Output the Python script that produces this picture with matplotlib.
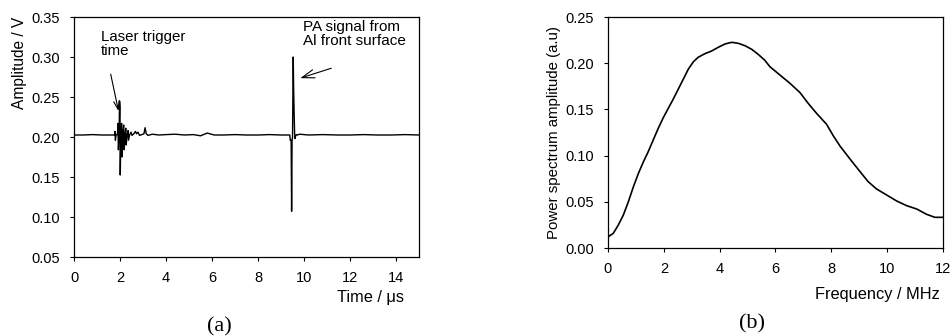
import numpy as np
import matplotlib
matplotlib.use("Agg")
import matplotlib.pyplot as plt

plt.rcParams['font.family'] = ['Liberation Sans', 'DejaVu Sans']

# (a) time signal
time_us = [0.0, 0.4, 0.8, 1.2, 1.5, 1.76, 1.78, 1.80, 1.83, 1.89, 1.91, 1.93, 1.96, 1.98,
           2.00, 2.01, 2.04, 2.07, 2.09, 2.12, 2.16, 2.18, 2.22, 2.25, 2.27, 2.31, 2.35,
           2.37, 2.42, 2.48, 2.52, 2.60, 2.67, 2.72, 2.78, 2.85, 2.95, 3.04, 3.09, 3.14,
           3.22, 3.4, 3.7, 4.0, 4.4, 4.8, 5.2, 5.5, 5.8, 5.9, 6.1, 6.5, 7.0, 7.5, 8.0,
           8.5, 9.0, 9.38, 9.40, 9.44, 9.46, 9.48, 9.50, 9.53, 9.55, 9.57, 9.59, 9.61,
           9.63, 9.67, 9.72, 9.8, 10.2, 10.8, 11.5, 12.0, 12.6, 13.2, 13.8, 14.4, 15.0]
amp_v = [0.2025, 0.2025, 0.203, 0.2025, 0.2025, 0.2025, 0.207, 0.196, 0.203, 0.203, 0.217,
         0.184, 0.203, 0.245, 0.238, 0.1525, 0.205, 0.217, 0.175, 0.205, 0.215, 0.184,
         0.203, 0.211, 0.190, 0.203, 0.208, 0.196, 0.203, 0.206, 0.202, 0.204, 0.207,
         0.204, 0.206, 0.202, 0.203, 0.204, 0.2116, 0.204, 0.202, 0.2035, 0.2025, 0.203,
         0.2035, 0.2025, 0.203, 0.2015, 0.205, 0.204, 0.2025, 0.2025, 0.203, 0.2025,
         0.2025, 0.203, 0.2025, 0.2025, 0.196, 0.196, 0.107, 0.196, 0.200, 0.300, 0.257,
         0.230, 0.205, 0.198, 0.201, 0.203, 0.2025, 0.2035, 0.2025, 0.203, 0.2025,
         0.2025, 0.203, 0.2025, 0.2025, 0.203, 0.2025]

# (b) power spectrum
freq_mhz = [0.0, 0.01, 0.19, 0.37, 0.55, 0.73, 0.91, 1.09, 1.27, 1.44, 1.62, 1.80, 1.98,
            2.16, 2.34, 2.52, 2.70, 2.88, 3.06, 3.23, 3.47, 3.71, 3.95, 4.19, 4.43, 4.67,
            4.91, 5.15, 5.38, 5.62, 5.80, 6.16, 6.52, 6.88, 7.17, 7.47, 7.83, 8.07, 8.31,
            8.67, 9.03, 9.32, 9.62, 9.98, 10.34, 10.70, 11.06, 11.41, 11.71, 12.0]
power = [0.0118, 0.0122, 0.0159, 0.0249, 0.0357, 0.0501, 0.0663, 0.0808, 0.0934, 0.1042,
         0.1169, 0.1295, 0.1410, 0.1512, 0.1613, 0.1721, 0.1829, 0.1937, 0.2016, 0.2064,
         0.2103, 0.2132, 0.2172, 0.2208, 0.2226, 0.2215, 0.2189, 0.2150, 0.2096, 0.2031,
         0.1962, 0.1872, 0.1782, 0.1681, 0.1566, 0.1458, 0.1339, 0.1215, 0.1104, 0.0963,
         0.0826, 0.0718, 0.0639, 0.0574, 0.0509, 0.0458, 0.0422, 0.0365, 0.0332, 0.0332]

fig = plt.figure(figsize=(9.5, 3.36), dpi=100)
axa = fig.add_axes([0.0779, 0.2351, 0.3632, 0.7143])
axb = fig.add_axes([0.64, 0.2619, 0.3526, 0.6875])

axa.plot(time_us, amp_v, color='black', lw=1.0)
axa.set_xlim(0, 15)
axa.set_ylim(0.05, 0.35)
axa.set_xticks(np.arange(0, 15, 2))
axa.set_yticks(np.arange(0.05, 0.36, 0.05))
axa.yaxis.set_major_formatter(matplotlib.ticker.FormatStrFormatter('%.2f'))
axa.set_ylabel('Amplitude / V', fontsize=11.2, loc='top', labelpad=3)
axa.text(0.957, -0.17, 'Time / μs', transform=axa.transAxes, ha='right', va='center', fontsize=11.8)
axa.text(0.42, -0.29, '(a)', transform=axa.transAxes, ha='center', va='center',
         fontsize=16, family='Liberation Serif')

axa.text(1.17, 0.334, 'Laser trigger\ntime', fontsize=10.8, va='top', linespacing=1.0)
axa.annotate('', xy=(1.96, 0.229), xytext=(1.57, 0.282),
             arrowprops=dict(arrowstyle='->,head_length=0.6,head_width=0.2', color='black', lw=0.8))
axa.text(9.95, 0.346, 'PA signal from\nAl front surface', fontsize=11, va='top', linespacing=1.0)
axa.annotate('', xy=(9.72, 0.2725), xytext=(11.3, 0.287),
             arrowprops=dict(arrowstyle='->,head_length=0.9,head_width=0.3', color='black', lw=0.8))

axb.plot(freq_mhz, power, color='black', lw=1.2)
axb.set_xlim(0, 12)
axb.set_ylim(0, 0.25)
axb.set_xticks(np.arange(0, 13, 2))
axb.set_yticks(np.arange(0, 0.26, 0.05))
axb.yaxis.set_major_formatter(matplotlib.ticker.FormatStrFormatter('%.2f'))
axb.set_ylabel('Power spectrum amplitude (a.u)', fontsize=10.8, labelpad=3)
axb.text(0.99, -0.2, 'Frequency / MHz', transform=axb.transAxes, ha='right', va='center', fontsize=11.8)
axb.text(0.43, -0.33, '(b)', transform=axb.transAxes, ha='center', va='center',
         fontsize=16, family='Liberation Serif')

for ax in (axa, axb):
    ax.tick_params(direction='out', length=3, width=0.8, labelsize=10.5, pad=7)
    for s in ax.spines.values():
        s.set_linewidth(0.9)

fig.savefig('out.png', dpi=100)
